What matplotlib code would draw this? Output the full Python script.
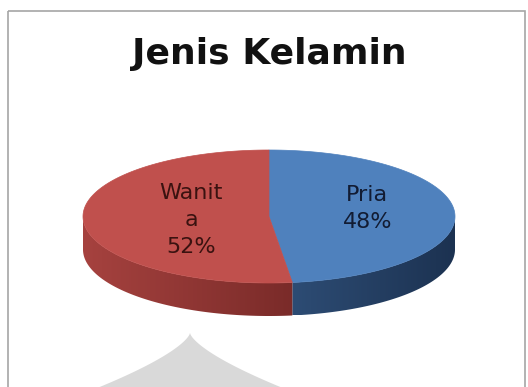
import numpy as np
import matplotlib.pyplot as plt
from matplotlib.patches import Polygon, Rectangle
from matplotlib.colors import to_rgb

# Jenis kelamin responden
labels = ["Pria", "Wanit\na"]
values = [48, 52]
top_colors = ["#4f81bd", "#c0504d"]
side_colors = [("#2d4c74", "#1c3251"), ("#a6423f", "#7a2b29")]
text_colors = ["#121c33", "#3a1210"]
title = "Jenis Kelamin"

W, H = 528, 387
cx, cy = 269, 216.5
a, b = 186, 66.5
depth = 33

plt.rcParams['font.family'] = ['DejaVu Sans']

fig = plt.figure(figsize=(W / 100, H / 100), dpi=100)
ax = fig.add_axes([0, 0, 1, 1])
ax.set_xlim(0, W)
ax.set_ylim(H, 0)
ax.axis('off')


def pt(t, dy=0.0):
    return cx + a * np.cos(t), cy - b * np.sin(t) + dy


def hgrad(c1, c2, x0, x1, y0, y1, clip):
    # horizontal colour ramp clipped to a patch
    c1, c2 = np.array(to_rgb(c1)), np.array(to_rgb(c2))
    k = np.linspace(0, 1, 256)[None, :, None]
    img = c1 + (c2 - c1) * k
    im = ax.imshow(img, extent=(x0, x1, y1, y0), aspect='auto',
                   interpolation='bilinear', zorder=2)
    im.set_clip_path(clip)


# slice angles: first slice starts at 12 o'clock and runs clockwise
fracs = np.array(values, dtype=float) / sum(values)
starts = np.pi / 2 - 2 * np.pi * np.concatenate([[0], np.cumsum(fracs)[:-1]])
ends = starts - 2 * np.pi * fracs

# faint watermark shape under the pie
wy = np.linspace(0, 60, 40)
wx = 0.278 * wy ** 1.45
shape = np.vstack([np.column_stack([190 - wx, 333 + wy]),
                   np.column_stack([190 + wx, 333 + wy])[::-1]])
ax.add_patch(Polygon(shape, closed=True, fc="#d9d9d9", ec="none", zorder=1))

# side walls (only the front half, sin(t) < 0, is visible)
for s, e, (c1, c2) in zip(starts, ends, side_colors):
    lo, hi = min(s, e), max(s, e)
    for shift in (0, -2 * np.pi, 2 * np.pi):
        l2, h2 = max(lo, -np.pi + shift), min(hi, shift)
        if h2 <= l2:
            continue
        ts = np.linspace(l2, h2, 120)
        xs, ys = pt(ts)
        wall = np.vstack([np.column_stack([xs, ys]),
                          np.column_stack([xs, ys + depth])[::-1]])
        patch = Polygon(wall, closed=True, fc="none", ec="none")
        ax.add_patch(patch)
        # darker towards the front-right of the pie
        hgrad(c1, c2, xs.min(), xs.max(), ys.min(), ys.max() + depth, patch)

# top faces
for s, e, c in zip(starts, ends, top_colors):
    ts = np.linspace(s, e, 200)
    xs, ys = pt(ts)
    poly = np.vstack([[cx, cy], np.column_stack([xs, ys])])
    ax.add_patch(Polygon(poly, closed=True, fc=c, ec=c, lw=0.5, zorder=3))

# data labels
label_r = [0.53, 0.42]
label_dy = [-6, 2]
for s, e, lab, v, tc, r, dy in zip(starts, ends, labels, values, text_colors, label_r, label_dy):
    mid = 0.5 * (s + e)
    x, y = cx + r * a * np.cos(mid), cy - r * b * np.sin(mid) + dy
    ax.text(x, y, f"{lab}\n{v}%", ha="center", va="center", fontsize=16,
            color=tc, linespacing=1.45, zorder=4)

ax.text(cx, 54, title, ha="center", va="center", fontsize=26,
        fontweight="bold", color="#111111", zorder=4)

# chart frame
ax.add_patch(Rectangle((8, 10.5), 517, 400, fill=False, ec="#a6a6a6", lw=1.2, zorder=5))

ax.set_xlim(0, W)
ax.set_ylim(H, 0)
fig.savefig("out.png", dpi=100)
